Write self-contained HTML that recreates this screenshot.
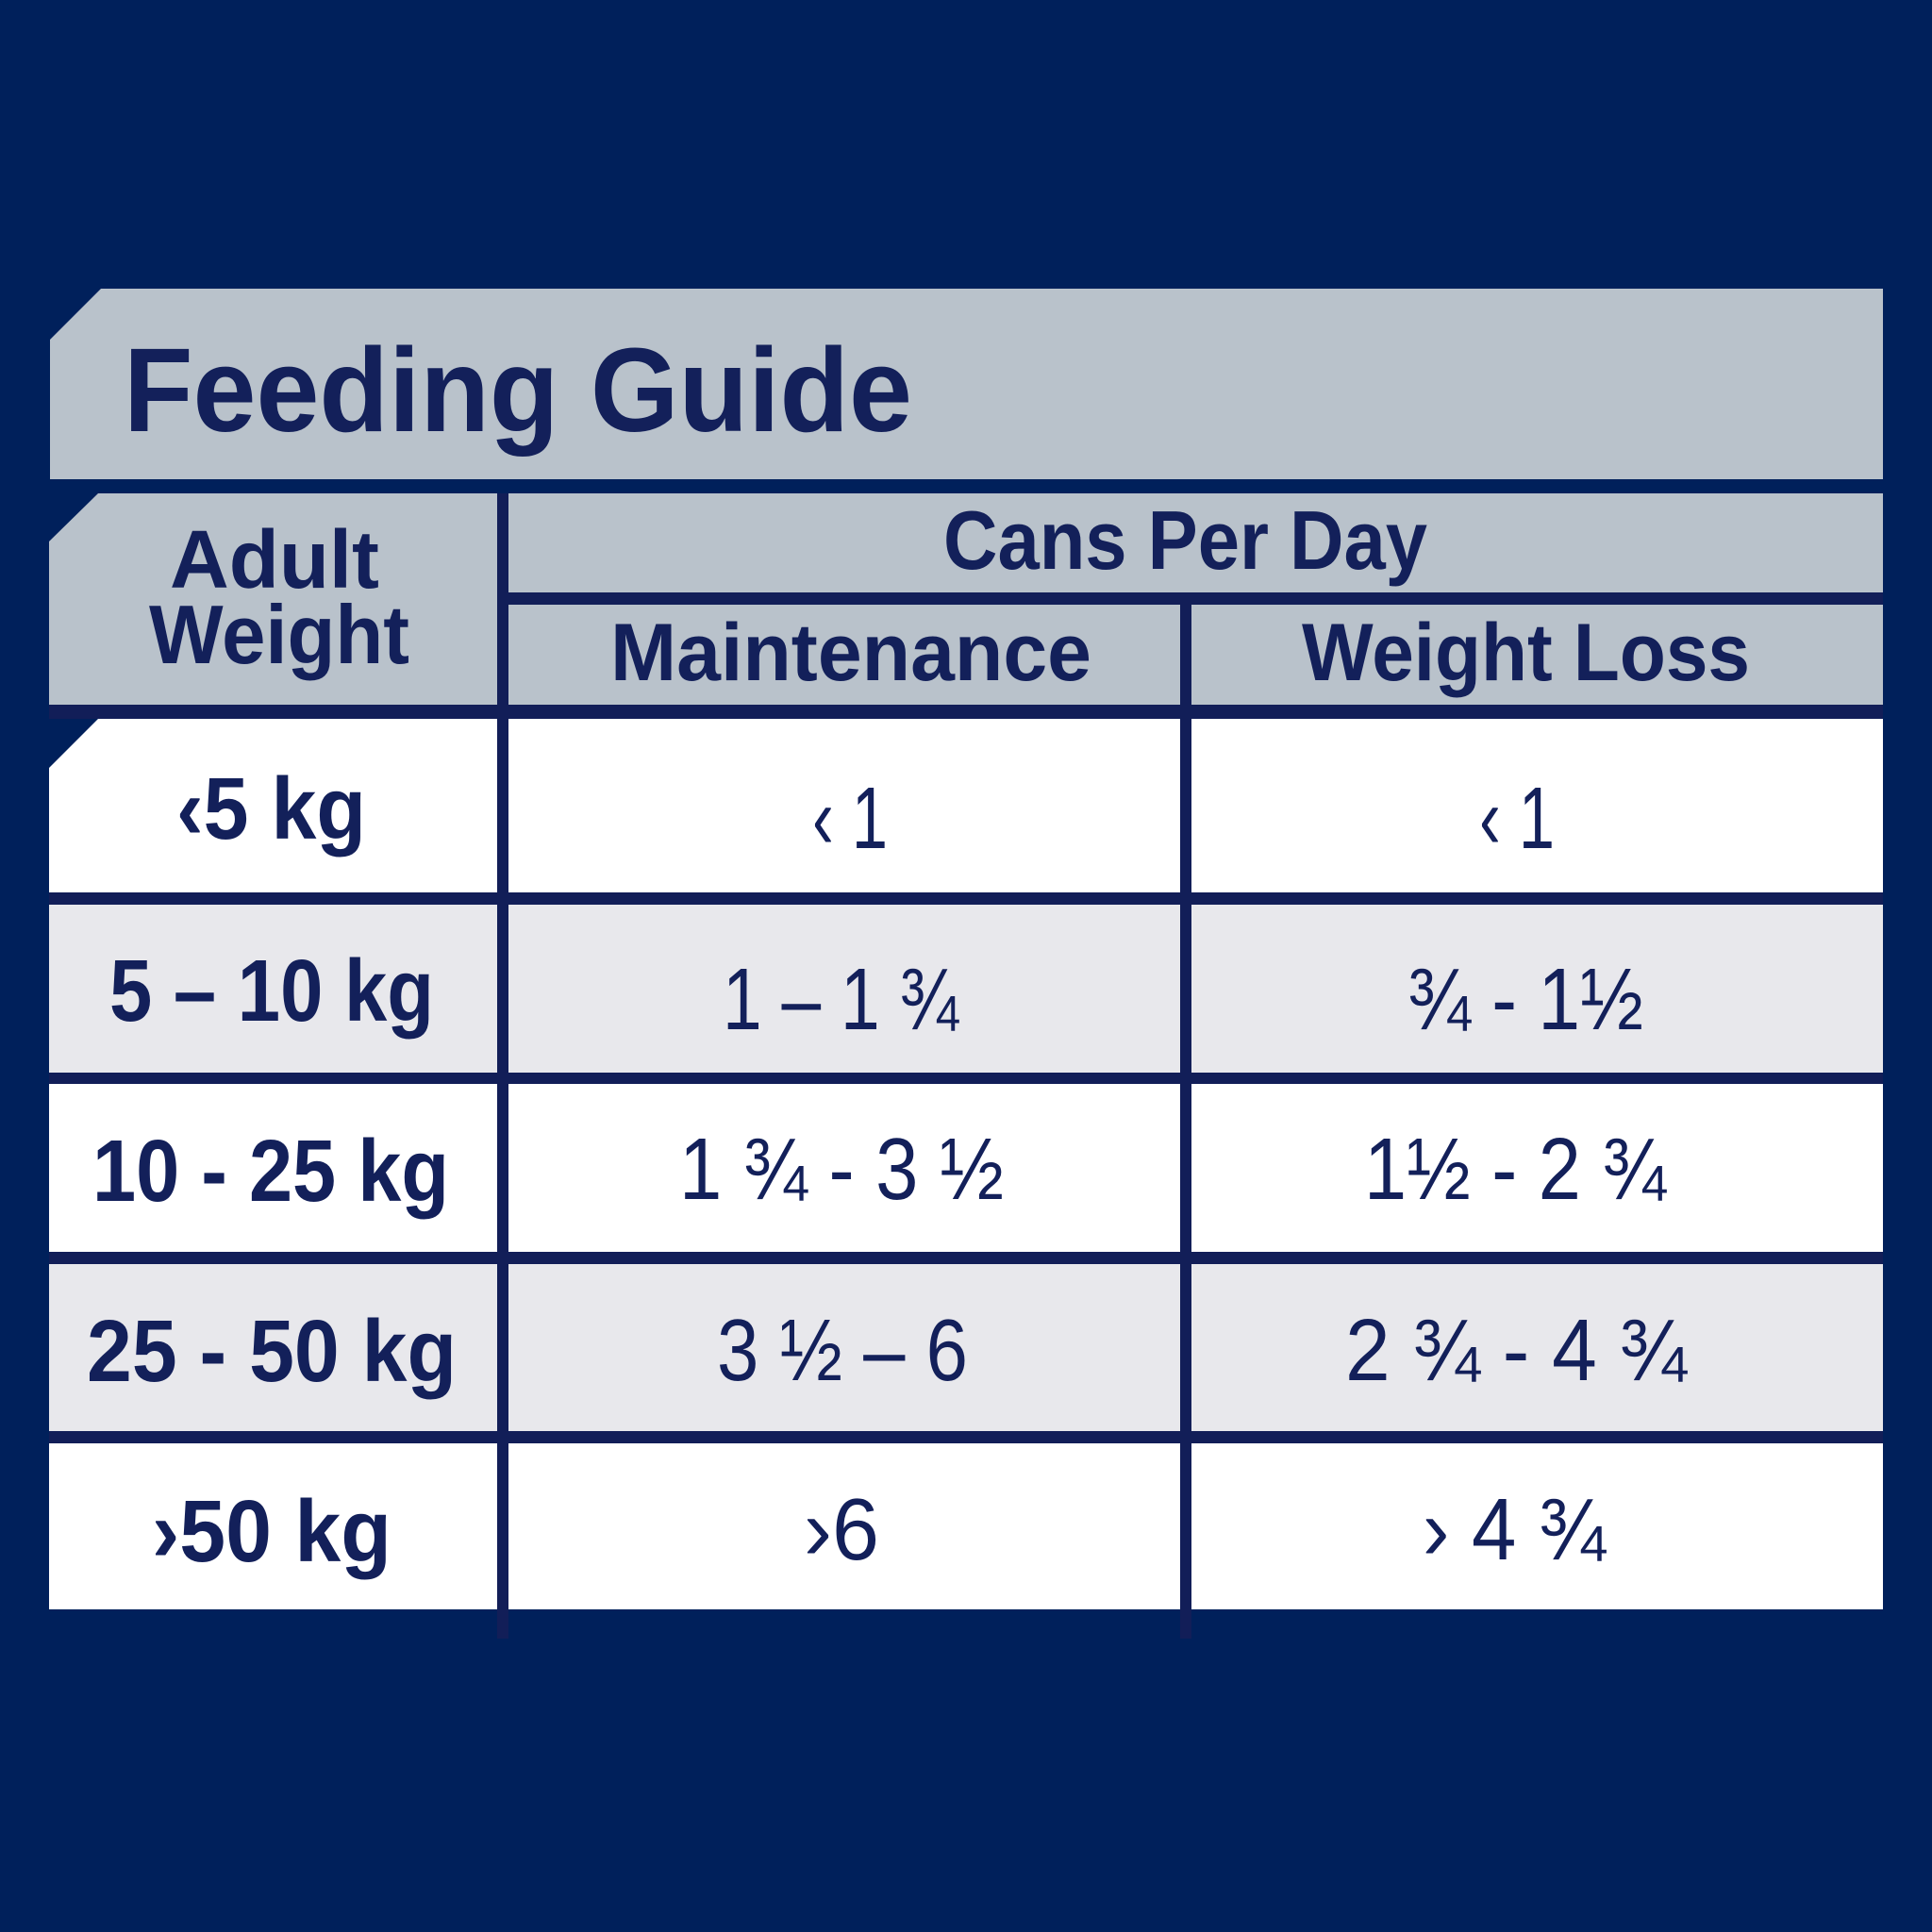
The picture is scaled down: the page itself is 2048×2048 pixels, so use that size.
<!DOCTYPE html>
<html>
<head>
<meta charset="utf-8">
<style>
  html, body { margin: 0; padding: 0; background: #00205b; }
  svg { display: block; }
  .b { font-family: "Liberation Sans", Arial, sans-serif; font-weight: bold; fill: #13205a; }
  .r { font-family: "Liberation Sans", Arial, sans-serif; font-weight: normal; fill: #13205a; }
</style>
</head>
<body>
<svg width="2048" height="2048" viewBox="0 0 2048 2048" xmlns="http://www.w3.org/2000/svg">
  <!-- background -->
  <rect x="0" y="0" width="2048" height="2048" fill="#00205b"/>

  <!-- title band -->
  <polygon points="53,360 107,306 1996,306 1996,508 53,508" fill="#b9c2cb"/>

  <!-- grid line color areas -->
  <g fill="#121e58">
    <!-- vertical dividers -->
    <rect x="527" y="523" width="12" height="1214"/>
    <rect x="1251" y="641" width="12" height="1096"/>
    <!-- horizontal under Cans Per Day -->
    <rect x="539" y="628" width="1457" height="13"/>
    <!-- row gaps -->
    <rect x="52" y="747" width="1944" height="15"/>
    <rect x="52" y="946" width="1944" height="13"/>
    <rect x="52" y="1137" width="1944" height="12"/>
    <rect x="52" y="1327" width="1944" height="13"/>
    <rect x="52" y="1517" width="1944" height="13"/>
  </g>

  <!-- header cells -->
  <polygon points="52,574 104,523 527,523 527,747 52,747" fill="#b9c2cb"/>
  <rect x="539" y="523" width="1457" height="105" fill="#b9c2cb"/>
  <rect x="539" y="641" width="712" height="106" fill="#b9c2cb"/>
  <rect x="1263" y="641" width="733" height="106" fill="#b9c2cb"/>

  <!-- row 1 (white) -->
  <polygon points="52,814 104,762 527,762 527,946 52,946" fill="#ffffff"/>
  <rect x="539" y="762" width="712" height="184" fill="#ffffff"/>
  <rect x="1263" y="762" width="733" height="184" fill="#ffffff"/>
  <!-- row 2 (light) -->
  <rect x="52" y="959" width="475" height="178" fill="#e8e8ec"/>
  <rect x="539" y="959" width="712" height="178" fill="#e8e8ec"/>
  <rect x="1263" y="959" width="733" height="178" fill="#e8e8ec"/>
  <!-- row 3 (white) -->
  <rect x="52" y="1149" width="475" height="178" fill="#ffffff"/>
  <rect x="539" y="1149" width="712" height="178" fill="#ffffff"/>
  <rect x="1263" y="1149" width="733" height="178" fill="#ffffff"/>
  <!-- row 4 (light) -->
  <rect x="52" y="1340" width="475" height="177" fill="#e8e8ec"/>
  <rect x="539" y="1340" width="712" height="177" fill="#e8e8ec"/>
  <rect x="1263" y="1340" width="733" height="177" fill="#e8e8ec"/>
  <!-- row 5 (white) -->
  <rect x="52" y="1530" width="475" height="176" fill="#ffffff"/>
  <rect x="539" y="1530" width="712" height="176" fill="#ffffff"/>
  <rect x="1263" y="1530" width="733" height="176" fill="#ffffff"/>

  <!-- title -->
  <text class="b" x="131" y="457" font-size="126" textLength="836" lengthAdjust="spacingAndGlyphs">Feeding Guide</text>

  <!-- header texts -->
  <text class="b" x="180" y="623" font-size="87" textLength="222" lengthAdjust="spacingAndGlyphs">Adult</text>
  <text class="b" x="158" y="703" font-size="88" textLength="276" lengthAdjust="spacingAndGlyphs">Weight</text>
  <text class="b" x="1000" y="603" font-size="88" textLength="513" lengthAdjust="spacingAndGlyphs">Cans Per Day</text>
  <text class="b" x="647" y="721" font-size="86" textLength="510" lengthAdjust="spacingAndGlyphs">Maintenance</text>
  <text class="b" x="1380" y="721" font-size="86" textLength="475" lengthAdjust="spacingAndGlyphs">Weight Loss</text>

  <!-- left column -->
  <text class="b" x="187" y="889" font-size="93" textLength="201" lengthAdjust="spacingAndGlyphs">‹5 kg</text>
  <text class="b" x="116" y="1082" font-size="93" textLength="344" lengthAdjust="spacingAndGlyphs">5 – 10 kg</text>
  <text class="b" x="98" y="1273" font-size="93" textLength="378" lengthAdjust="spacingAndGlyphs">10 - 25 kg</text>
  <text class="b" x="92" y="1464" font-size="93" textLength="392" lengthAdjust="spacingAndGlyphs">25 - 50 kg</text>
  <text class="b" x="161" y="1655" font-size="93" textLength="254" lengthAdjust="spacingAndGlyphs">›50 kg</text>

  <!-- Maintenance column -->
  <text class="r" x="861" y="899" font-size="93" textLength="80" lengthAdjust="spacingAndGlyphs">‹ 1</text>
  <text class="r" x="766" y="1091" font-size="93" textLength="250" lengthAdjust="spacingAndGlyphs">1 – 1 ¾</text>
  <text class="r" x="720" y="1271" font-size="93" textLength="344" lengthAdjust="spacingAndGlyphs">1 ¾ - 3 ½</text>
  <text class="r" x="760" y="1463" font-size="93" textLength="266" lengthAdjust="spacingAndGlyphs">3 ½ – 6</text>
  <text class="r" x="852" y="1653" font-size="93" textLength="80" lengthAdjust="spacingAndGlyphs">›6</text>

  <!-- Weight Loss column -->
  <text class="r" x="1568" y="899" font-size="93" textLength="80" lengthAdjust="spacingAndGlyphs">‹ 1</text>
  <text class="r" x="1492" y="1091" font-size="93" textLength="250" lengthAdjust="spacingAndGlyphs">¾ - 1½</text>
  <text class="r" x="1446" y="1271" font-size="93" textLength="320" lengthAdjust="spacingAndGlyphs">1½ - 2 ¾</text>
  <text class="r" x="1426" y="1463" font-size="93" textLength="362" lengthAdjust="spacingAndGlyphs">2 ¾ - 4 ¾</text>
  <text class="r" x="1508" y="1653" font-size="93" textLength="194" lengthAdjust="spacingAndGlyphs">› 4 ¾</text>
</svg>
</body>
</html>
